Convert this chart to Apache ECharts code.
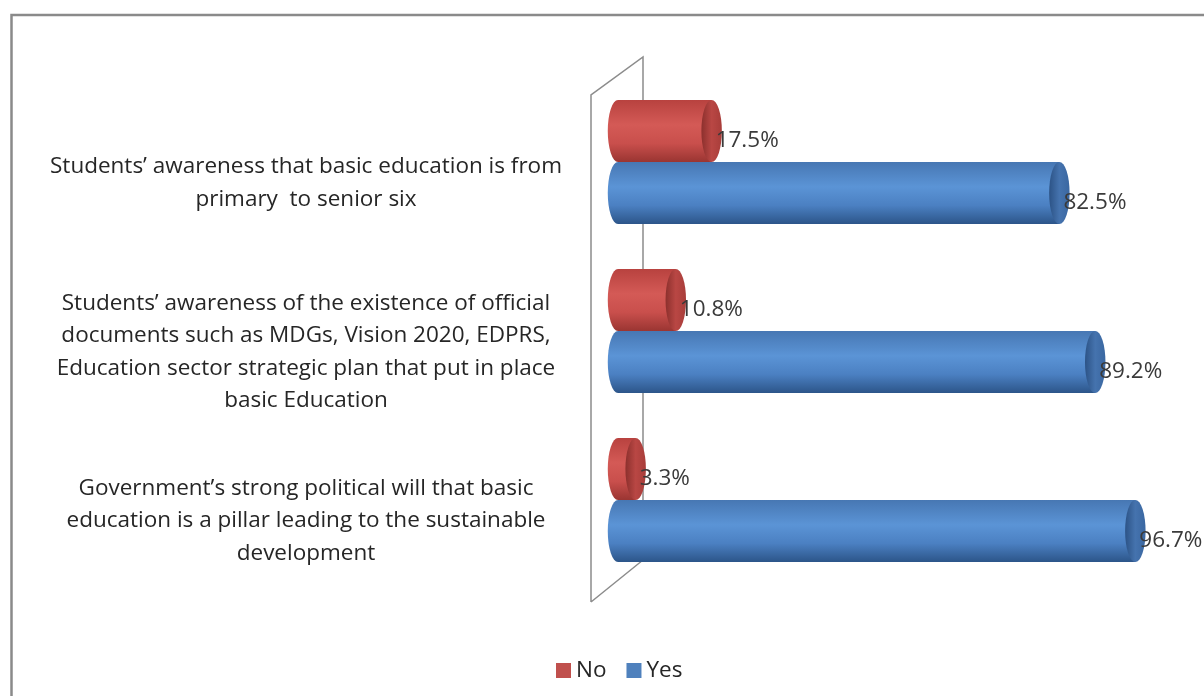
<!DOCTYPE html>
<html>
<head>
<meta charset="utf-8">
<script src="https://cdn.jsdelivr.net/npm/echarts@6/dist/echarts.min.js"></script>
<style>
  html, body { margin: 0; padding: 0; background: #fff; }
  #chart { width: 1204px; height: 696px; }
</style>
</head>
<body>
<div id="chart"></div>
<script>
// Survey statements (top to bottom)
const categories = [
  'Students\u2019 awareness that basic education is from\nprimary  to senior six',
  'Students\u2019 awareness of the existence of official\ndocuments such as MDGs, Vision 2020, EDPRS,\nEducation sector strategic plan that put in place\nbasic Education',
  'Government\u2019s strong political will that basic\neducation is a pillar leading to the sustainable\ndevelopment'
];
// Share of respondents (%)
const noValues = [17.5, 10.8, 3.3];
const yesValues = [82.5, 89.2, 96.7];

const FONT = '"Open Sans", "Liberation Sans", sans-serif';

const palettes = {
  No: {
    legend: '#c0504d',
    body: ['#b8423f', '#d45a56', '#c94f4c', '#9a3532'],
    cap: ['#a83d3a', '#b94744', '#8c302d']
  },
  Yes: {
    legend: '#4f81bd',
    body: ['#4777b3', '#5b94d6', '#4b80c2', '#2c5589'],
    cap: ['#3a67a1', '#4573ae', '#2c5386']
  }
};

// Horizontal cylinder: rounded left end, body, and a visible right end face.
function cylinder(side, pal) {
  return function (params, api) {
    const v = api.value(0);
    const c = api.value(1);
    const p0 = api.coord([0, c]);
    const p1 = api.coord([v, c]);
    const band = api.size([0, 1])[1];
    const h = band * 0.367;
    const cy = p0[1] + side * h / 2;
    const top = cy - h / 2;
    const bot = cy + h / 2;
    const ry = h / 2;
    const rx = h * 0.165;
    const x0 = p0[0];
    const x1 = p1[0];

    const bodyPath =
      'M' + x0 + ' ' + top +
      ' L' + x1 + ' ' + top +
      ' L' + x1 + ' ' + bot +
      ' L' + x0 + ' ' + bot +
      ' A' + rx + ' ' + ry + ' 0 0 1 ' + x0 + ' ' + top + ' Z';
    const capPath =
      'M' + x1 + ' ' + top +
      ' A' + rx + ' ' + ry + ' 0 0 1 ' + x1 + ' ' + bot +
      ' A' + rx + ' ' + ry + ' 0 0 1 ' + x1 + ' ' + top + ' Z';

    const bodyFill = new echarts.graphic.LinearGradient(0, 0, 0, 1, [
      { offset: 0, color: pal.body[0] },
      { offset: 0.4, color: pal.body[1] },
      { offset: 0.7, color: pal.body[2] },
      { offset: 1, color: pal.body[3] }
    ]);
    const capFill = new echarts.graphic.LinearGradient(0, 0, 1, 0, [
      { offset: 0, color: pal.cap[2] },
      { offset: 0.5, color: pal.cap[1] },
      { offset: 1, color: pal.cap[0] }
    ]);

    return {
      type: 'group',
      children: [
        { type: 'path', shape: { pathData: bodyPath }, style: { fill: bodyFill, stroke: null } },
        { type: 'path', shape: { pathData: capPath }, style: { fill: capFill, stroke: null } },
        {
          type: 'text',
          z2: 10,
          style: {
            text: v.toFixed(1) + '%',
            x: x1 + 4,
            y: cy + 10,
            align: 'left',
            verticalAlign: 'middle',
            fontSize: 22.5,
            fontFamily: FONT,
            fill: '#3a3a3a'
          }
        }
      ]
    };
  };
}

// Category captions, centred to the left of the side wall and set slightly
// below each category's centre line.
function caption(params, api) {
  const c = api.value(1);
  const p = api.coord([0, c]);
  return {
    type: 'text',
    style: {
      text: categories[c],
      x: p[0] - 312,
      y: p[1] + 21,
      align: 'center',
      verticalAlign: 'middle',
      fontSize: 22.5,
      lineHeight: 32.5,
      fontFamily: FONT,
      fill: '#262626'
    }
  };
}

const chart = echarts.init(document.getElementById('chart'), null, { renderer: 'canvas' });

chart.setOption({
  backgroundColor: '#ffffff',
  animation: false,
  grid: { left: 618, right: 51, top: 77.5, bottom: 111.5, containLabel: false },
  xAxis: {
    type: 'value',
    min: 0,
    max: 100,
    show: false
  },
  yAxis: {
    type: 'category',
    data: categories,
    inverse: true,
    axisLine: { show: false },
    axisTick: { show: false },
    splitLine: { show: false },
    axisLabel: { show: false }
  },
  legend: {
    data: ['No', 'Yes'],
    left: 556,
    top: 659,
    padding: 0,
    icon: 'rect',
    itemWidth: 15,
    itemHeight: 15,
    itemGap: 20,
    textStyle: { fontSize: 22.5, fontFamily: FONT, color: '#262626' }
  },
  graphic: [
    {
      type: 'rect',
      shape: { x: 11.5, y: 15, width: 1300, height: 800 },
      style: { fill: 'none', stroke: '#8a8a8a', lineWidth: 2.5 },
      silent: true
    },
    {
      // side wall of the plot area
      type: 'polyline',
      shape: { points: [[591, 602], [591, 95], [643, 57], [643, 560], [591, 602]] },
      style: { fill: 'none', stroke: '#8c8c8c', lineWidth: 1.5 },
      silent: true
    }
  ],
  series: [
    {
      name: 'No',
      type: 'custom',
      itemStyle: { color: palettes.No.legend },
      encode: { x: 0, y: 1 },
      data: noValues.map((v, i) => [v, i]),
      renderItem: cylinder(-1, palettes.No),
      z: 3
    },
    {
      name: 'Yes',
      type: 'custom',
      itemStyle: { color: palettes.Yes.legend },
      encode: { x: 0, y: 1 },
      data: yesValues.map((v, i) => [v, i]),
      renderItem: cylinder(1, palettes.Yes),
      z: 3
    },
    {
      name: 'captions',
      type: 'custom',
      silent: true,
      encode: { x: 0, y: 1 },
      data: categories.map((_, i) => [0, i]),
      renderItem: caption,
      z: 2
    }
  ]
});
</script>
</body>
</html>
